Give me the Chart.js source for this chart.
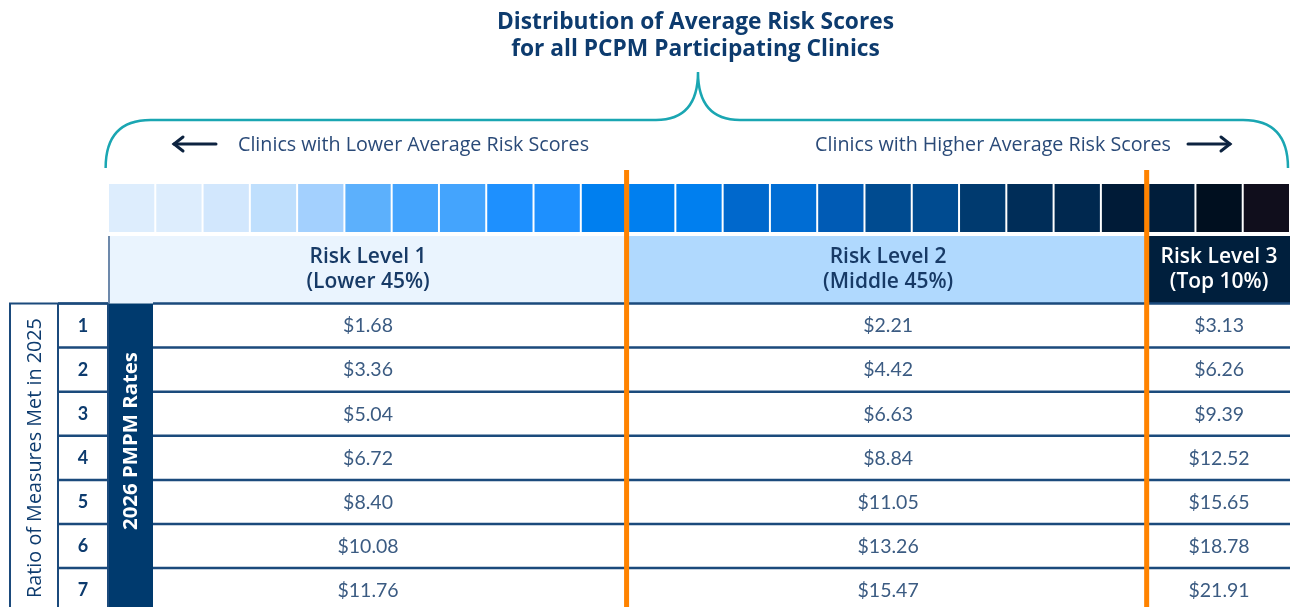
<!DOCTYPE html>
<html>
<head>
<meta charset="utf-8">
<script src="https://cdn.jsdelivr.net/npm/chart.js@4/dist/chart.umd.min.js"></script>
<style>
  html, body { margin: 0; padding: 0; background: #ffffff; }
  #wrap { width: 1290px; height: 607px; position: relative; }
</style>
</head>
<body>
<div id="wrap"><canvas id="c" width="1290" height="607"></canvas></div>
<script>
// ---------------- DATA ----------------
const titleLines = ['Distribution of Average Risk Scores', 'for all PCPM Participating Clinics'];
const lowerLabel = 'Clinics with Lower Average Risk Scores';
const higherLabel = 'Clinics with Higher Average Risk Scores';
const riskLevels = ['Risk Level 1', 'Risk Level 2', 'Risk Level 3'];
const riskShares = ['(Lower 45%)', '(Middle 45%)', '(Top 10%)'];
const levelSegments = [11, 11, 3];           // strip segments in each risk level
const measureRatios = ['1', '2', '3', '4', '5', '6', '7'];
const level1Rates = [1.68, 3.36, 5.04, 6.72, 8.40, 10.08, 11.76];
const level2Rates = [2.21, 4.42, 6.63, 8.84, 11.05, 13.26, 15.47];
const level3Rates = [3.13, 6.26, 9.39, 12.52, 15.65, 18.78, 21.91];
const rowAxisLabel = 'Ratio of Measures Met in 2025';
const rateLabel = '2026 PMPM Rates';
const segmentIndex = Array.from({ length: 25 }, (_, i) => i + 1); // 25 distribution segments

// ---------------- STYLE ----------------
const stripShades = ['#ddedfd','#ddedfd','#d2e7fd','#bfdffd','#a3d0fe','#5cb0fc','#44a4fd','#44a4fd',
  '#1e90fe','#1e90fe','#007fef','#007fef','#007fef','#0068cc','#006dd4','#005bb5','#004b90','#004b90',
  '#003a6f','#002d58','#00284f','#001b37','#001d3a','#000f1f','#100e1c'];
const headerFills = ['#eaf4fe', '#b0d9fe', '#001f3d'];
const headerText = ['#173a66', '#173a66', '#ffffff'];
const NAVY = '#0d3b6e';
const LINE = '#1b4a7c';
const LATO = 'Lato, "Open Sans", "DejaVu Sans", sans-serif';
const OPEN = '"Open Sans", Lato, "DejaVu Sans", sans-serif';

// layout: x in strip-segment units (0 = strip start), y in table-row units (0 = first row top)
const PX_COL = 1182 / 25, X0 = 108;
const PX_ROW = 44.1, Y0 = 303.5;
const xMin = -X0 / PX_COL, xMax = 25;
const yMin = -Y0 / PX_ROW, yMax = (607 - Y0) / PX_ROW;
const stripBand = [(184 - Y0) / PX_ROW, (232 - Y0) / PX_ROW];
const headerBand = [(236 - Y0) / PX_ROW, 0];
const colRatio = [(10 - X0) / PX_COL, (58 - X0) / PX_COL];
const colNum = [(58 - X0) / PX_COL, 0];
const colRate = [0, (153 - X0) / PX_COL];

const levelEdges = [0];
levelSegments.forEach(n => levelEdges.push(levelEdges[levelEdges.length - 1] + n));
const levelRates = [level1Rates, level2Rates, level3Rates];

// set a font whose size makes `text` about `width` px wide
function fitFont(ctx, text, weight, family, width) {
  ctx.font = weight + ' 20px ' + family;
  const w = ctx.measureText(text).width;
  const size = 20 * width / w;
  ctx.font = weight + ' ' + size.toFixed(2) + 'px ' + family;
  return size;
}

const tablePlugin = {
  id: 'tablePlugin',
  beforeDatasetsDraw(chart) {
    const ctx = chart.ctx;
    const xs = chart.scales.x, ys = chart.scales.y;
    const X = v => xs.getPixelForValue(v);
    const Y = v => ys.getPixelForValue(v);
    ctx.save();

    // title
    ctx.fillStyle = NAVY;
    ctx.textAlign = 'center';
    ctx.textBaseline = 'middle';
    const cx = X(12.5) - 1;
    const ts = fitFont(ctx, titleLines[0], 'bold', OPEN, 397);
    ctx.fillText(titleLines[0], 695.5, 23);
    ctx.font = 'bold ' + ts.toFixed(2) + 'px ' + OPEN;
    ctx.fillText(titleLines[1], 695.5, 50);

    // brace
    ctx.strokeStyle = '#1aa6b2';
    ctx.lineWidth = 2.5;
    ctx.beginPath();
    const bl = X(-0.05), br = X(25) - 2, by = 120, bt = 72, bb = 168;
    ctx.moveTo(bl, bb);
    ctx.quadraticCurveTo(bl, by, bl + 45, by);
    ctx.lineTo(cx - 42, by);
    ctx.quadraticCurveTo(cx, by, cx, bt);
    ctx.quadraticCurveTo(cx, by, cx + 42, by);
    ctx.lineTo(br - 45, by);
    ctx.quadraticCurveTo(br, by, br, bb);
    ctx.stroke();

    // arrow labels
    ctx.fillStyle = '#2a4a78';
    ctx.textAlign = 'left';
    const ls = fitFont(ctx, lowerLabel, 'normal', OPEN, 351);
    ctx.fillText(lowerLabel, 238, 145);
    ctx.textAlign = 'right';
    ctx.font = 'normal ' + ls.toFixed(2) + 'px ' + OPEN;
    ctx.fillText(higherLabel, 1171, 145);
    ctx.strokeStyle = '#0d2340';
    ctx.lineWidth = 3;
    ctx.lineCap = 'round';
    const arrow = (x1, x2, y) => {
      ctx.beginPath(); ctx.moveTo(x1, y); ctx.lineTo(x2, y); ctx.stroke();
      const d = Math.sign(x2 - x1);
      ctx.beginPath();
      ctx.moveTo(x2 - d * 9, y - 7); ctx.lineTo(x2, y); ctx.lineTo(x2 - d * 9, y + 7);
      ctx.stroke();
    };
    arrow(216, 174, 144);
    arrow(1188, 1230, 144);

    // header row
    const hy1 = Y(headerBand[0]), hy2 = Y(headerBand[1]);
    ctx.save();
    const hs = fitFont(ctx, riskLevels[0], '600', OPEN, 117);
    ctx.restore();
    for (let i = 0; i < 3; i++) {
      const x1 = X(levelEdges[i]), x2 = X(levelEdges[i + 1]);
      ctx.fillStyle = headerFills[i];
      ctx.fillRect(x1, hy1, x2 - x1, hy2 - hy1);
      ctx.fillStyle = headerText[i];
      ctx.textAlign = 'center';
      ctx.font = '600 ' + hs.toFixed(2) + 'px ' + OPEN;
      const mx = (x1 + x2) / 2;
      ctx.fillText(riskLevels[i], mx, 257);
      ctx.fillText(riskShares[i], mx, 282);
    }
    ctx.fillStyle = '#6d89ab';
    ctx.fillRect(X(0), hy1, 2, hy2 - hy1);

    // table body
    const rowTop = r => Y(r);
    const nRows = measureRatios.length;
    ctx.fillStyle = '#003a6e';
    ctx.fillRect(X(colRate[0]), Y(0), X(colRate[1]) - X(colRate[0]), Y(yMax) - Y(0));
    ctx.strokeStyle = LINE;
    ctx.lineWidth = 2.5;
    ctx.lineCap = 'butt';
    for (let r = 0; r <= nRows; r++) {
      const y = rowTop(r);
      ctx.beginPath();
      ctx.moveTo(X(colNum[0]), y); ctx.lineTo(X(colNum[1]), y);
      ctx.moveTo(X(colRate[1]), y); ctx.lineTo(X(25), y);
      ctx.stroke();
    }
    ctx.lineWidth = 2;
    ctx.beginPath();
    ctx.moveTo(X(colRatio[0]), Y(yMax)); ctx.lineTo(X(colRatio[0]), Y(0));
    ctx.lineTo(X(colNum[1]), Y(0));
    ctx.moveTo(X(colRatio[1]), Y(0)); ctx.lineTo(X(colRatio[1]), Y(yMax));
    ctx.moveTo(X(colNum[1]), Y(0)); ctx.lineTo(X(colNum[1]), Y(yMax));
    ctx.stroke();

    for (let r = 0; r < nRows; r++) {
      const yc = (rowTop(r) + rowTop(r + 1)) / 2 + 0.5;
      ctx.fillStyle = NAVY;
      ctx.font = 'bold 18px ' + LATO;
      ctx.textAlign = 'center';
      ctx.fillText(measureRatios[r], (X(colNum[0]) + X(colNum[1])) / 2, yc);
      ctx.font = '19.5px ' + LATO;
      ctx.fillStyle = '#3b5b82';
      for (let i = 0; i < 3; i++) {
        const mx = (X(levelEdges[i]) + X(levelEdges[i + 1])) / 2;
        ctx.fillText('$' + levelRates[i][r].toFixed(2), mx, yc);
      }
    }

    // rotated labels
    ctx.save();
    ctx.translate((X(colRatio[0]) + X(colRatio[1])) / 2 + 1, 458);
    ctx.rotate(-Math.PI / 2);
    ctx.fillStyle = NAVY;
    ctx.textAlign = 'center';
    fitFont(ctx, rowAxisLabel, 'normal', OPEN, 280);
    ctx.fillText(rowAxisLabel, 0, 0);
    ctx.restore();

    ctx.save();
    ctx.translate((X(colRate[0]) + X(colRate[1])) / 2 + 1, 441);
    ctx.rotate(-Math.PI / 2);
    ctx.fillStyle = '#ffffff';
    ctx.textAlign = 'center';
    fitFont(ctx, rateLabel, 'bold', OPEN, 178);
    ctx.fillText(rateLabel, 0, 0);
    ctx.restore();

    ctx.restore();
  },
  afterDatasetsDraw(chart) {
    const ctx = chart.ctx;
    const xs = chart.scales.x;
    ctx.save();
    ctx.fillStyle = '#ff8300';
    [levelEdges[1], levelEdges[2]].forEach(v => {
      const x = xs.getPixelForValue(v) - 1.5;
      ctx.fillRect(x - 2.5, 170, 5, 607 - 170);
    });
    ctx.restore();
  }
};

new Chart(document.getElementById('c'), {
  type: 'bar',
  data: {
    datasets: [{
      label: 'Distribution of average risk scores',
      data: segmentIndex.map(s => ({ x: s - 0.5, y: stripBand })),
      backgroundColor: stripShades,
      borderWidth: 0,
      barPercentage: 1,
      categoryPercentage: 0.958
    }]
  },
  options: {
    responsive: false,
    devicePixelRatio: 1,
    animation: false,
    layout: { padding: 0 },
    plugins: { legend: { display: false }, tooltip: { enabled: false } },
    scales: {
      x: { type: 'linear', min: xMin, max: xMax, offset: false, display: false, grid: { display: false } },
      y: { type: 'linear', min: yMin, max: yMax, reverse: true, display: false, grid: { display: false } }
    }
  },
  plugins: [tablePlugin]
});
</script>
</body>
</html>
